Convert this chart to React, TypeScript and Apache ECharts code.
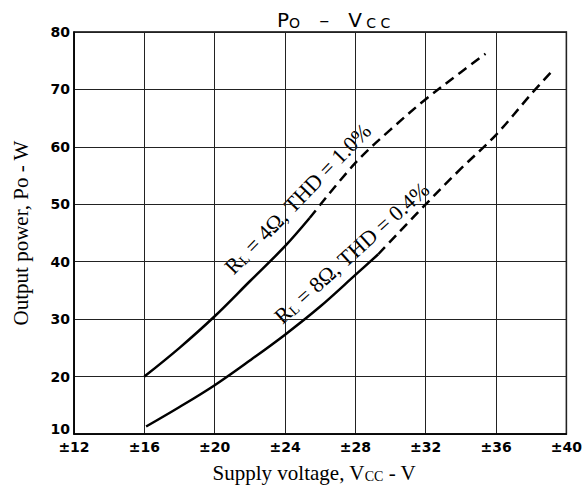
import React, { useEffect, useRef } from "react";
import * as echarts from "echarts";

// Supply voltage ticks (±V) and output power ticks (W)
const xTickValues = [12, 16, 20, 24, 28, 32, 36, 40];
const yTickValues = [10, 20, 30, 40, 50, 60, 70, 80];

// RL = 4Ω, THD = 1.0 %  (solid = measured, dashed = extrapolated)
const rl4Solid: [number, number][] = [
  [16, 20], [18, 25], [20, 30.5], [22, 36.6], [24, 42.7], [25.4, 47.6],
];
const rl4Dashed: [number, number][] = [
  [25.4, 47.6], [28, 57.2], [30, 63], [32, 68.3], [34, 73], [35.4, 76.2],
];

// RL = 8Ω, THD = 0.4 %
const rl8Solid: [number, number][] = [
  [16.1, 11.3], [18, 14.7], [20, 18.5], [22, 22.8], [24, 27.3], [26, 32.2], [28, 37.7], [29.3, 41.3],
];
const rl8Dashed: [number, number][] = [
  [29.3, 41.3], [32, 50], [34, 56.2], [36, 62.1], [38, 69.2], [39.1, 72.9],
];

const serif = "'Liberation Serif', 'Times New Roman', serif";
const sans = "'DejaVu Sans', sans-serif";

const deg = (d: number) => (d * Math.PI) / 180;

export default function App() {
  const ref = useRef<HTMLDivElement>(null);

  useEffect(() => {
    if (!ref.current) return;
    const chart = echarts.init(ref.current, null, { renderer: "svg" });

    const curveRich = {
      r: { fontFamily: serif, fontSize: 22, lineHeight: 24, fill: "#000", verticalAlign: "bottom" },
      s: { fontFamily: serif, fontSize: 14, lineHeight: 13, fill: "#000", verticalAlign: "bottom" },
    };

    const lineBase = { color: "#000", width: 2.5 };

    chart.setOption({
      animation: false,
      backgroundColor: "#fff",
      grid: {
        left: 74,
        right: 18,
        top: 32,
        bottom: 58,
        show: true,
        borderColor: "#000",
        borderWidth: 1.5,
        backgroundColor: "transparent",
      },
      xAxis: {
        type: "value",
        min: xTickValues[0],
        max: xTickValues[xTickValues.length - 1],
        interval: 4,
        axisLine: { show: true, lineStyle: { color: "#000", width: 1.5 } },
        axisTick: { show: false },
        splitLine: { show: true, lineStyle: { color: "#222", width: 1 } },
        axisLabel: {
          formatter: (v: number) => "±" + v,
          fontFamily: sans,
          fontWeight: "bold",
          fontSize: 14,
          color: "#000",
          margin: 6,
        },
        name: "{a|Supply voltage, V}{s|CC}{a| - V}",
        nameLocation: "middle",
        nameGap: 25,
        nameTextStyle: {
          padding: [0, 12, 0, 0],
          rich: {
            a: { fontFamily: serif, fontSize: 21, lineHeight: 24, color: "#000", verticalAlign: "bottom" },
            s: { fontFamily: serif, fontSize: 14, lineHeight: 13, color: "#000", verticalAlign: "bottom" },
          },
        },
      },
      yAxis: {
        type: "value",
        min: yTickValues[0],
        max: yTickValues[yTickValues.length - 1],
        interval: 10,
        axisLine: { show: true, lineStyle: { color: "#000", width: 1.5 } },
        axisTick: { show: false },
        splitLine: { show: true, lineStyle: { color: "#222", width: 1 } },
        axisLabel: {
          formatter: (v: number) => (v === yTickValues[0] ? "{lo|" + v + "}" : "{n|" + v + "}"),
          margin: 4,
          rich: {
            n: { fontFamily: sans, fontWeight: "bold", fontSize: 14, color: "#000" },
            lo: { fontFamily: sans, fontWeight: "bold", fontSize: 14, color: "#000", padding: [0, 0, 10, 0] },
          },
        },
        name: "Output power, Po - W",
        nameLocation: "middle",
        nameGap: 43,
        nameTextStyle: { fontFamily: serif, fontSize: 21, color: "#000" },
      },
      graphic: [
        {
          type: "text",
          x: 277,
          y: 30,
          style: {
            text: "{b|P}{s|O}{b|   –   V}{s| C C}",
            verticalAlign: "bottom",
            align: "left",
            fill: "#000",
            rich: {
              b: { fontFamily: sans, fontSize: 20, lineHeight: 24, fill: "#000", verticalAlign: "bottom" },
              s: { fontFamily: sans, fontSize: 14, lineHeight: 18, fill: "#000", verticalAlign: "bottom" },
            },
          },
        },
        {
          type: "text",
          x: 297,
          y: 198,
          rotation: deg(46),
          style: {
            text: "{r|R}{s|L}{r| = 4Ω, THD = 1.0%}",
            align: "center",
            verticalAlign: "middle",
            fill: "#000",
            rich: curveRich,
          },
        },
        {
          type: "text",
          x: 351,
          y: 252,
          rotation: deg(42),
          style: {
            text: "{r|R}{s|L}{r| = 8Ω, THD = 0.4%}",
            align: "center",
            verticalAlign: "middle",
            fill: "#000",
            rich: curveRich,
          },
        },
      ],
      series: [
        {
          type: "line",
          data: rl4Solid,
          smooth: 0.35,
          showSymbol: false,
          symbol: "none",
          lineStyle: { ...lineBase, type: "solid" },
        },
        {
          type: "line",
          data: rl4Dashed,
          smooth: 0.35,
          showSymbol: false,
          symbol: "none",
          lineStyle: { ...lineBase, type: [10, 6] },
        },
        {
          type: "line",
          data: rl8Solid,
          smooth: 0.35,
          showSymbol: false,
          symbol: "none",
          lineStyle: { ...lineBase, type: "solid" },
        },
        {
          type: "line",
          data: rl8Dashed,
          smooth: 0.35,
          showSymbol: false,
          symbol: "none",
          lineStyle: { ...lineBase, type: [10, 6] },
        },
      ],
    });

    return () => chart.dispose();
  }, []);

  return (
    <div
      ref={ref}
      style={{ position: "absolute", left: 0, top: 0, width: 585, height: 492, background: "#fff" }}
    />
  );
}
